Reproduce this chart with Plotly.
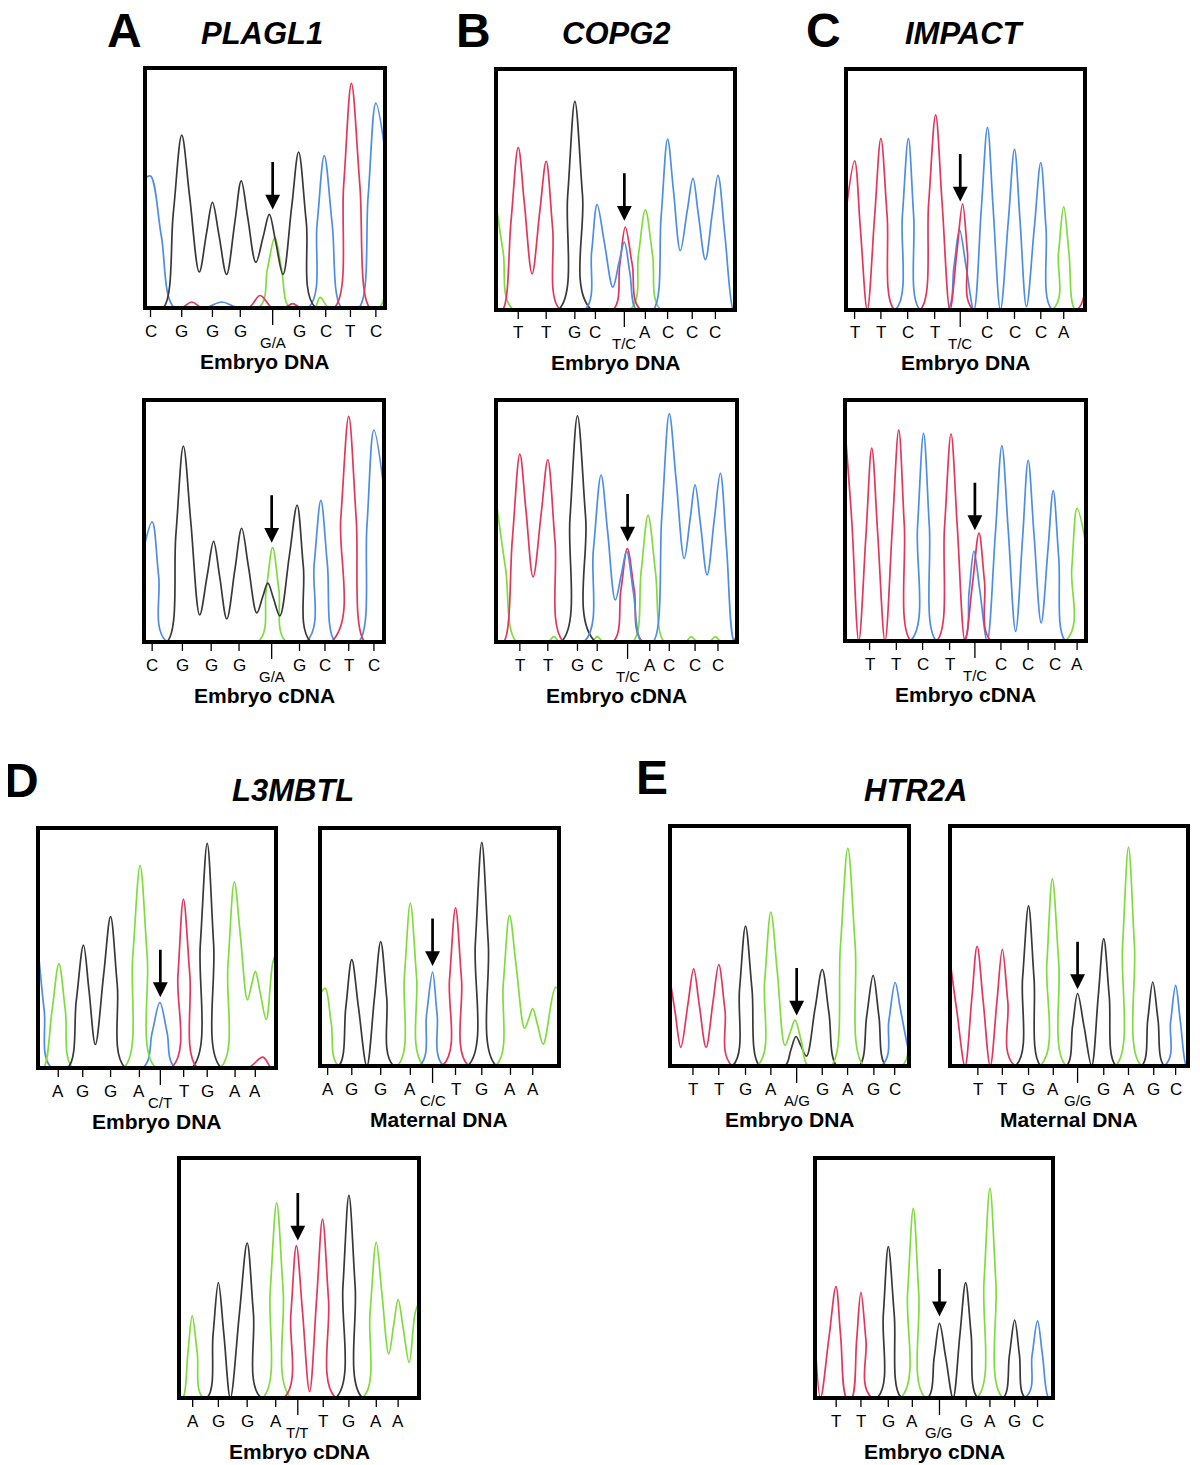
import plotly.graph_objects as go

# dye colours used by the sequencer traces
DYE = {'A': '#80dc3e', 'C': '#4d8de6', 'G': '#383838', 'T': '#e3365d'}
FONT = 'Liberation Sans, Arial, sans-serif'

# ---------------- A  PLAGL1 ----------------
A1_CALLS = ['C', 'G', 'G', 'G', 'G/A', 'G', 'C', 'T', 'C']
A1_TICKS = [2.3, 15.3, 28.1, 39.7, 53.2, 64.4, 75.3, 85.6, 96.2]
A1_ARROW = 41
A1_G = [(0, 0), (7.5, 0), (11.8, 39.6), (15.3, 72), (18.6, 46.4), (22.6, 15), (25.6, 31), (28.1, 44),
        (30.8, 30.5), (34, 14), (37.4, 35.5), (40.1, 53), (42.8, 37.7), (46.2, 19), (49.3, 30), (51.8, 39),
        (54.4, 27.8), (57.5, 14), (61.1, 42), (64, 65), (67.2, 35.8), (71.2, 0), (100, 0)]
A1_C = [(0, 54), (2.3, 55), (6.8, 30), (12.3, 0), (25, 0), (32, 2.5), (39, 0), (68, 0), (71.7, 34.9),
        (74.7, 63.5), (78, 34.9), (82, 0), (89, 0), (93, 47), (96.2, 85.4), (100, 65.6)]
A1_T = [(0, 0), (15, 0), (19.5, 2.5), (24, 0), (43, 0), (48, 5.2), (53, 0), (58, 0), (61.6, 1.8), (65, 0),
        (78.8, 0), (82.8, 51.5), (86, 93.6), (89.5, 51.5), (93.8, 0), (100, 0)]
A1_A = [(0, 0), (47.3, 0), (51, 16.2), (54.1, 29.4), (56.9, 16.2), (60.3, 0), (70.5, 0), (73, 4.4),
        (76.7, 0), (97.5, 0), (100, 11)]

A2_CALLS = ['C', 'G', 'G', 'G', 'G/A', 'G', 'C', 'T', 'C']
A2_TICKS = [3.4, 16, 28, 39.6, 53.2, 64.8, 75.4, 85.3, 95.8]
A2_ARROW = 41
A2_C = [(0, 39), (3.4, 49.7), (6.1, 27.3), (9.5, 0), (67.5, 0), (70.9, 32.2), (73.7, 58.5), (76.4, 32.2),
        (79.8, 0), (89.4, 0), (92.9, 48.2), (95.8, 87.6), (100, 63)]
A2_G = [(0, 0), (9.5, 0), (13.3, 44.6), (16.4, 81), (19.5, 49.6), (23.2, 11.2), (26.4, 27.9), (29, 41.6),
        (31.5, 27.2), (34.5, 9.5), (37.9, 30.1), (40.7, 47), (43.5, 31.3), (47, 12), (49.5, 18.8),
        (51.6, 24.3), (53.9, 18.2), (56.6, 10.8), (60.6, 35.9), (63.8, 56.5), (66.4, 31.1), (69.6, 0), (100, 0)]
A2_A = [(0, 0), (47.5, 0), (50.9, 21.5), (53.6, 39), (56.2, 21.5), (59.3, 0), (100, 0)]
A2_T = [(0, 0), (78, 0), (82, 51.3), (85.3, 93.2), (88.4, 51.3), (92.1, 0), (100, 0)]

# ---------------- B  COPG2 ----------------
B1_CALLS = ['T', 'T', 'G', 'C', 'T/C', 'A', 'C', 'C', 'C']
B1_TICKS = [9.3, 21, 33, 41.6, 53.7, 62.5, 71.8, 82.1, 91.8]
B1_ARROW = 37
B1_A = [(0, 44.3), (3, 24), (7.3, 0), (56, 0), (59.6, 22.9), (62.5, 41.6), (65.5, 22.9), (69.1, 0), (100, 0)]
B1_T = [(0, 0), (2.7, 0), (6.3, 37.1), (9.3, 67.5), (11.9, 43.9), (15.1, 15), (18.3, 40.7), (21, 61.7),
        (23.7, 33.9), (26.9, 0), (48.9, 0), (51.8, 18.9), (54.1, 34.4), (57, 18.9), (60.6, 0), (100, 0)]
B1_G = [(0, 0), (26.1, 0), (30, 47.6), (33, 86.6), (36.2, 47.6), (40, 0), (100, 0)]
B1_C = [(0, 0), (37.1, 0), (40, 24), (42.3, 43.7), (45.3, 28.3), (48.9, 9.5), (51.5, 19.8), (53.7, 28.2),
        (56, 15.5), (58.8, 0), (65.7, 0), (69.1, 39), (71.8, 70.9), (74.2, 50.1), (77.1, 24.6), (80, 41.1),
        (82.4, 54.6), (84.7, 39.4), (87.6, 20.9), (90.5, 40.2), (92.9, 55.9), (95.8, 30.7), (99.3, 0), (100, 0)]

B2_CALLS = ['T', 'T', 'G', 'C', 'T/C', 'A', 'C', 'C', 'C']
B2_TICKS = [9.9, 21.5, 33.8, 42, 54.6, 63.8, 71.9, 82.6, 92.1]
B2_ARROW = 41.5
B2_A = [(0, 58.6), (4, 30), (8.6, 0), (21.5, 0), (24, 2.2), (26.5, 0), (39.5, 0), (42, 2.2), (44.5, 0),
        (56.7, 0), (60.2, 28.8), (63.1, 52.4), (66.2, 28.8), (69.9, 0), (78.5, 0), (81, 2.2), (83.5, 0),
        (88.5, 0), (91, 2.2), (93.5, 0), (100, 0)]
B2_T = [(0, 0), (3.1, 0), (6.8, 42.7), (9.9, 77.6), (12.4, 54.8), (15.4, 26.9), (18.8, 53.5), (21.5, 75.3),
        (24.5, 41.4), (28.1, 0), (48.5, 0), (51.8, 21.2), (54.5, 38.6), (57.4, 21.2), (61, 0), (98, 0), (100, 4)]
B2_G = [(0, 0), (27, 0), (30.7, 51.4), (33.8, 93.5), (37.2, 51.4), (41.3, 0), (100, 0)]
B2_C = [(0, 0), (36.5, 0), (40.4, 38), (43.6, 69), (46.3, 45.8), (49.5, 17.4), (52.1, 28.4), (54.2, 37.5),
        (57, 20.6), (60.4, 0), (65.1, 0), (68.8, 51.9), (71.9, 94.3), (74.7, 67.4), (78.1, 34.5), (80.6, 51.2),
        (82.6, 64.9), (84.9, 48.2), (87.6, 27.7), (90.6, 50.9), (93.1, 69.8), (95.7, 38.4), (98.9, 0), (100, 0)]

# ---------------- C  IMPACT ----------------
C1_CALLS = ['T', 'T', 'C', 'T', 'T/C', 'C', 'C', 'C', 'A']
C1_TICKS = [3.6, 14.6, 25.8, 37.1, 47.8, 59.2, 70.5, 81.5, 91.1]
C1_ARROW = 45
C1_T = [(0, 40.8), (3.6, 61.9), (6, 34), (8.9, 0), (12, 39.2), (14.6, 71.2), (17.2, 39.2), (20.3, 0),
        (31, 0), (34.6, 44.6), (37.5, 81), (40.2, 44.6), (43.5, 0), (46.4, 24.2), (48.8, 44), (50.8, 24.2),
        (53.3, 0), (96.6, 0), (100, 18.4)]
C1_C = [(0, 0), (20.6, 0), (23.6, 39.2), (26.1, 71.2), (28.3, 39.2), (31, 0), (42.3, 0), (45.2, 18.3),
        (47.5, 33.3), (50.2, 18.3), (53.5, 0), (56.6, 41.7), (59.2, 75.8), (61.6, 41.7), (64.6, 0),
        (67.9, 36.7), (70.5, 66.7), (72.8, 37.3), (75.5, 1.4), (78.8, 34.3), (81.5, 61.2), (83.7, 33.7),
        (86.3, 0), (100, 0)]
C1_A = [(0, 0), (86.3, 0), (88.9, 23.6), (91.1, 42.9), (93.3, 23.6), (95.9, 0), (100, 0)]

C2_CALLS = ['T', 'T', 'C', 'T', 'T/C', 'C', 'C', 'C', 'A']
C2_TICKS = [10.2, 21.3, 32.2, 43.4, 53.9, 64.7, 76, 87.1, 96.3]
C2_ARROW = 46
C2_T = [(0, 88), (2.8, 50), (5.7, 0), (8.7, 44), (11.1, 80), (13.6, 44), (16.6, 0), (19.7, 48.1),
        (22.3, 87.5), (24.6, 48.1), (27.4, 0), (38, 0), (41.3, 47.2), (44, 85.9), (46.6, 47.2), (49.8, 0),
        (53, 24.6), (55.6, 44.8), (57.9, 24.6), (60.7, 0), (100, 0)]
C2_C = [(0, 0), (27.1, 0), (30.1, 47.4), (32.6, 86.2), (35, 47.4), (38, 0), (49.1, 0), (51.5, 20.5),
        (53.5, 37.3), (56, 20.5), (59, 0), (62.4, 44.6), (65.1, 81), (67.7, 46.4), (70.8, 4), (73.7, 43),
        (76, 75), (78.4, 44.6), (81.4, 7.5), (84.2, 37.7), (86.4, 62.4), (88.7, 34.3), (91.5, 0), (100, 0)]
C2_A = [(0, 0), (91.5, 0), (94.1, 30.3), (96.3, 55), (100, 40)]

# ---------------- D  L3MBTL ----------------
D1_CALLS = ['A', 'G', 'G', 'A', 'C/T', 'T', 'G', 'A', 'A']
D1_TICKS = [8.5, 18.8, 30.5, 42.6, 51.4, 61.2, 71.1, 82.8, 91.3]
D1_ARROW = 29.5
D1_C = [(0, 50), (2.6, 24), (5.8, 0), (44, 0), (48, 15), (51.2, 27.3), (54.2, 15), (57.8, 0), (100, 0)]
D1_A = [(0, 0), (2.3, 0), (5.9, 23.9), (8.8, 43.4), (11.5, 23.9), (14.7, 0), (36, 0), (39.8, 46.4),
        (42.9, 84.3), (45.9, 46.4), (49.5, 0), (76.6, 0), (79.8, 42.7), (82.5, 77.6), (85, 55.5), (88, 28.4),
        (89.8, 34.9), (91.3, 40.3), (93.4, 31.2), (95.9, 20.2), (98.6, 43.7), (100, 48)]
D1_G = [(0, 0), (12.4, 0), (16.1, 28.2), (19.1, 51.2), (21.4, 32.6), (24.1, 9.8), (27.6, 39.1), (30.5, 63.1),
        (33.3, 34.7), (36.7, 0), (64.6, 0), (68.2, 51.5), (71.1, 93.6), (73.8, 51.5), (77, 0), (100, 0)]
D1_T = [(0, 0), (56, 0), (58.8, 38.7), (61.1, 70.4), (63.8, 38.7), (67, 0), (88, 0), (94.5, 4.5), (98, 0),
        (100, 0)]

D2_CALLS = ['A', 'G', 'G', 'A', 'C/C', 'T', 'G', 'A', 'A']
D2_TICKS = [3.2, 13.3, 25.4, 37.8, 47.1, 56.7, 67.7, 79.7, 89]
D2_ARROW = 42
D2_A = [(0, 30), (2.2, 32.6), (4.7, 18), (7.8, 0), (32.3, 0), (35.3, 37.6), (37.8, 68.4), (40.4, 37.6),
        (43.5, 0), (73.5, 0), (76.7, 34.8), (79.3, 63.3), (82.1, 41.9), (85.6, 15.8), (87.5, 20.4), (89, 24.1),
        (91, 17.4), (93.4, 9.2), (98.5, 33), (100, 32)]
D2_G = [(0, 0), (7.8, 0), (10.8, 24.6), (13.3, 44.7), (16.1, 24.6), (19.6, 0), (22.8, 28.8), (25.4, 52.3),
        (27.9, 28.8), (30.9, 0), (61.8, 0), (65, 51.7), (67.7, 94), (70.4, 51.7), (73.8, 0), (100, 0)]
D2_C = [(0, 0), (41.6, 0), (44.6, 21.7), (47.1, 39.5), (49, 21.7), (51.8, 0), (100, 0)]
D2_T = [(0, 0), (51.2, 0), (54.2, 36.5), (56.7, 66.4), (59.2, 36.5), (62.2, 0), (100, 0)]

D3_CALLS = ['A', 'G', 'G', 'A', 'T/T', 'T', 'G', 'A', 'A']
D3_TICKS = [5.7, 16.4, 28.4, 40.3, 49.5, 60.1, 70.8, 82.2, 91.3]
D3_ARROW = 65.6
D3_A = [(0, 0), (1.6, 0), (3.7, 18.8), (5.5, 34.2), (7.6, 18.8), (10.2, 0), (34.8, 0), (38, 44.7),
        (40.7, 81.3), (43.4, 44.7), (46.7, 0), (76.5, 0), (79.6, 35.7), (82.2, 64.9), (84.5, 44), (87.4, 18.4),
        (89.5, 30.8), (91.3, 41), (93.4, 29.2), (95.9, 14.8), (98.4, 35.5), (100, 40)]
D3_G = [(0, 0), (11.6, 0), (14.2, 26.5), (16.4, 48.1), (18.7, 26.5), (21.4, 0), (25.2, 35.5), (28.4, 64.5),
        (31, 35.5), (34.2, 0), (65.3, 0), (68.3, 46.4), (70.8, 84.4), (73.4, 46.4), (76.5, 0), (100, 0)]
D3_T = [(0, 0), (43.7, 0), (46.6, 34.9), (48.9, 63.5), (51.4, 36.7), (54.4, 2.7), (57.4, 42.2), (59.8, 74.5),
        (62.3, 41), (65.3, 0), (100, 0)]

# ---------------- E  HTR2A ----------------
E1_CALLS = ['T', 'T', 'G', 'A', 'A/G', 'G', 'A', 'G', 'C']
E1_TICKS = [9.6, 20.4, 31.6, 42.2, 53, 63.7, 74.3, 85.3, 94]
E1_ARROW = 21
E1_T = [(0, 36), (2.2, 22), (4.5, 7.8), (7.5, 25.8), (9.9, 40.5), (12.2, 25.8), (15.1, 7.8), (18, 26.8),
        (20.4, 42.3), (23, 23.3), (26.1, 0), (100, 0)]
E1_G = [(0, 0), (26.1, 0), (29.1, 32.1), (31.6, 58.3), (34.3, 32.1), (37.6, 0), (48.1, 0), (50.6, 6.8),
        (52.7, 12.3), (54.7, 8.6), (57.1, 4.1), (60.7, 24), (63.7, 40.2), (66.5, 22.1), (69.9, 0), (79.1, 0),
        (82.3, 20.8), (85, 37.8), (87.4, 20.8), (90.4, 0), (100, 0)]
E1_A = [(0, 0), (36.5, 0), (39.6, 35.3), (42.2, 64.1), (44.9, 39.1), (48.1, 8.6), (50.4, 14.4), (52.3, 19.1),
        (54.9, 10.5), (57.8, 0), (67.4, 0), (71.3, 49.9), (74.4, 90.7), (77.5, 49.9), (81.2, 0), (97, 0),
        (100, 8)]
E1_C = [(0, 0), (88.4, 0), (91.6, 19.1), (94.2, 34.8), (96.4, 23.7), (99, 10.2), (100, 6)]

E2_CALLS = ['T', 'T', 'G', 'A', 'G/G', 'G', 'A', 'G', 'C']
E2_TICKS = [11.7, 22, 33, 43.4, 53.6, 64.6, 75, 85.6, 94.8]
E2_ARROW = 32
E2_T = [(0, 44), (3, 22), (6.3, 0), (9.1, 27.4), (11.4, 49.9), (13.9, 27.4), (16.9, 0), (19.7, 26.7),
        (22, 48.6), (24.3, 26.7), (27.2, 0), (100, 0)]
E2_G = [(0, 0), (27.5, 0), (30.5, 36.7), (33, 66.7), (35.3, 36.7), (38.2, 0), (48.9, 0), (51.5, 16.6),
        (53.6, 30.2), (56.3, 16.6), (59.5, 0), (62.3, 29.2), (64.6, 53.1), (66.9, 29.2), (69.8, 0), (80.5, 0),
        (83.1, 19.3), (85.2, 35), (87.4, 19.3), (90.1, 0), (100, 0)]
E2_A = [(0, 0), (37.9, 0), (40.7, 42.9), (43, 78), (45.7, 42.9), (48.9, 0), (69.5, 0), (72.5, 50.2),
        (75, 91.2), (77.5, 50.2), (80.5, 0), (100, 0)]
E2_C = [(0, 0), (90.1, 0), (92.7, 18.5), (94.8, 33.6), (96.8, 18.5), (99.3, 0), (100, 0)]

E3_CALLS = ['T', 'T', 'G', 'A', 'G/G', 'G', 'A', 'G', 'C']
E3_TICKS = [8.9, 19.3, 30.8, 40.9, 52.3, 63.5, 73.5, 83.9, 93.5]
E3_ARROW = 34
E3_T = [(0, 25), (2.3, 0), (5.9, 25.5), (8.8, 46.4), (10.8, 25.5), (13.3, 0), (15.4, 0), (17.5, 24.2),
        (19.3, 44), (21.4, 24.2), (23.9, 0), (100, 0)]
E3_G = [(0, 0), (26.1, 0), (28.7, 34.7), (30.8, 63.1), (33.3, 34.7), (36.3, 0), (47.3, 0), (50.1, 17.1),
        (52.3, 31.1), (54.9, 17.1), (58, 0), (60.9, 26.5), (63.3, 48.1), (65.6, 26.5), (68.4, 0), (79, 0),
        (81.7, 17.9), (83.9, 32.5), (85.9, 17.9), (88.3, 0), (100, 0)]
E3_A = [(0, 0), (36, 0), (38.9, 43.5), (41.3, 79), (43.6, 43.5), (46.4, 0), (68, 0), (71, 48.1), (73.5, 87.4),
        (76, 48.1), (79, 0), (100, 0)]
E3_C = [(0, 0), (88.3, 0), (91.2, 17.7), (93.5, 32.1), (95.6, 17.7), (98.2, 0), (100, 0)]

SNP = 4  # index of the polymorphic base in every call list

# the page body keeps an 8px margin, so the figure is drawn smaller and shifted
PAD = 8
W, H = 1200 - 2 * PAD, 1465 - PAD

# (calls, ticks, arrow, traces, sample label, box left/right/top/bottom in page px)
panels = [
    (A1_CALLS, A1_TICKS, A1_ARROW, {'C': A1_C, 'A': A1_A, 'T': A1_T, 'G': A1_G}, 'Embryo DNA', (145, 385, 68, 308)),
    (A2_CALLS, A2_TICKS, A2_ARROW, {'C': A2_C, 'A': A2_A, 'T': A2_T, 'G': A2_G}, 'Embryo cDNA', (144, 384, 400, 642)),
    (B1_CALLS, B1_TICKS, B1_ARROW, {'A': B1_A, 'G': B1_G, 'T': B1_T, 'C': B1_C}, 'Embryo DNA', (496, 735, 69, 310)),
    (B2_CALLS, B2_TICKS, B2_ARROW, {'A': B2_A, 'G': B2_G, 'T': B2_T, 'C': B2_C}, 'Embryo cDNA', (496, 737, 400, 642)),
    (C1_CALLS, C1_TICKS, C1_ARROW, {'A': C1_A, 'C': C1_C, 'T': C1_T}, 'Embryo DNA', (846, 1085, 69, 310)),
    (C2_CALLS, C2_TICKS, C2_ARROW, {'A': C2_A, 'C': C2_C, 'T': C2_T}, 'Embryo cDNA', (845, 1086, 400, 641)),
    (D1_CALLS, D1_TICKS, D1_ARROW, {'C': D1_C, 'A': D1_A, 'G': D1_G, 'T': D1_T}, 'Embryo DNA', (38, 276, 828, 1068)),
    (D2_CALLS, D2_TICKS, D2_ARROW, {'A': D2_A, 'G': D2_G, 'C': D2_C, 'T': D2_T}, 'Maternal DNA', (320, 559, 828, 1066)),
    (D3_CALLS, D3_TICKS, D3_ARROW, {'A': D3_A, 'G': D3_G, 'T': D3_T}, 'Embryo cDNA', (179, 419, 1158, 1398)),
    (E1_CALLS, E1_TICKS, E1_ARROW, {'T': E1_T, 'G': E1_G, 'A': E1_A, 'C': E1_C}, 'Embryo DNA', (670, 909, 826, 1066)),
    (E2_CALLS, E2_TICKS, E2_ARROW, {'T': E2_T, 'G': E2_G, 'A': E2_A, 'C': E2_C}, 'Maternal DNA', (950, 1188, 826, 1066)),
    (E3_CALLS, E3_TICKS, E3_ARROW, {'T': E3_T, 'G': E3_G, 'A': E3_A, 'C': E3_C}, 'Embryo cDNA', (815, 1053, 1158, 1398)),
]

# panel letters and gene names (centre in page px)
headings = [
    ('A', 124, 30, 'PLAGL1', 262, 33),
    ('B', 473, 30, 'COPG2', 616, 33),
    ('C', 823, 30, 'IMPACT', 965, 33),
    ('D', 21, 780, 'L3MBTL', 293, 790),
    ('E', 652, 778, 'HTR2A', 915, 790),
]


def px(x):
    return (x - PAD) / W


def py(y):
    return 1 - (y - PAD) / H


fig = go.Figure()
layout = {}
shapes = []
annotations = []

for i, (calls, ticks, arrow, traces, label, box) in enumerate(panels, start=1):
    left, right, top, bottom = box
    sfx = '' if i == 1 else str(i)
    xa, ya = 'x' + sfx, 'y' + sfx
    layout['xaxis' + sfx] = dict(domain=[px(left), px(right)], range=[0, 100], visible=False,
                                 anchor=ya, fixedrange=True)
    layout['yaxis' + sfx] = dict(domain=[py(bottom), py(top)], range=[0, 100], visible=False,
                                 anchor=xa, fixedrange=True)

    for dye, pts in traces.items():
        fig.add_trace(go.Scatter(
            x=[p[0] for p in pts], y=[p[1] for p in pts], xaxis=xa, yaxis=ya,
            mode='lines', line=dict(color=DYE[dye], width=1.7, shape='spline', smoothing=1.0),
            hoverinfo='skip', showlegend=False))

    # frame
    shapes.append(dict(type='rect', xref=xa + ' domain', yref=ya + ' domain', x0=0, x1=1, y0=0, y1=1,
                       line=dict(color='black', width=4), layer='above'))

    for j, (pos, base) in enumerate(zip(ticks, calls)):
        snp = j == SNP
        shapes.append(dict(type='line', xref=xa, x0=pos, x1=pos, yref=ya + ' domain', ysizemode='pixel',
                           yanchor=0, y0=0, y1=-17 if snp else -9, line=dict(color='black', width=1.3)))
        annotations.append(dict(xref=xa, yref=ya + ' domain', x=pos, y=0, yanchor='middle',
                                yshift=-34 if snp else -23, text=base, showarrow=False,
                                font=dict(family=FONT, size=15 if snp else 17, color='black')))

    # arrow over the variant peak
    annotations.append(dict(xref=xa, yref=ya, x=ticks[SNP], y=arrow, ax=0, ay=-49, text='',
                            showarrow=True, arrowhead=2, arrowsize=1.1, arrowwidth=2.7,
                            arrowcolor='black', standoff=0))

    annotations.append(dict(xref=xa + ' domain', yref=ya + ' domain', x=0.5, y=0, yanchor='middle',
                            yshift=-53, text='<b>%s</b>' % label, showarrow=False,
                            font=dict(family=FONT, size=21, color='black')))

for letter, lx, ly, gene, gx, gy in headings:
    annotations.append(dict(xref='paper', yref='paper', x=px(lx), y=py(ly), xanchor='center',
                            yanchor='middle', text='<b>%s</b>' % letter, showarrow=False,
                            font=dict(family=FONT, size=48, color='black')))
    annotations.append(dict(xref='paper', yref='paper', x=px(gx), y=py(gy), xanchor='center',
                            yanchor='middle', text='<b><i>%s</i></b>' % gene, showarrow=False,
                            font=dict(family=FONT, size=31, color='black')))

fig.update_layout(
    width=W, height=H,
    margin=dict(l=0, r=0, t=0, b=0),
    paper_bgcolor='white', plot_bgcolor='white',
    showlegend=False, hovermode=False,
    shapes=shapes, annotations=annotations,
    **layout)

fig.write_html("out.html")
